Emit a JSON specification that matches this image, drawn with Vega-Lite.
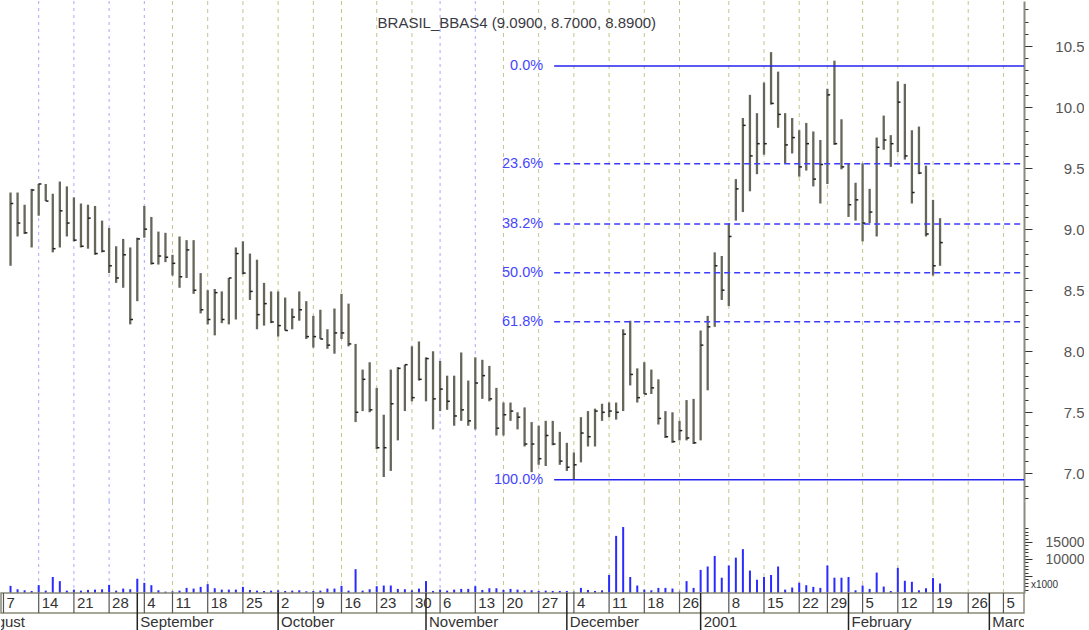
{
  "$schema": "https://vega.github.io/schema/vega-lite/v6.json",
  "padding": 0,
  "spacing": 0,
  "bounds": "flush",
  "config": {"view": {"stroke": null}, "font": "Liberation Sans", "axis": {"labelOverlap": false, "labelBound": false}},
  "datasets": {
    "bars": [
      {"i":0,"h":9.30,"l":8.70,"c":9.21,"v":2100},{"i":1,"h":9.30,"l":8.94,"c":9.05,"v":1100},{"i":2,"h":9.20,"l":8.96,"c":8.97,"v":800},{"i":3,"h":9.33,"l":8.85,"c":9.32,"v":600},{"i":4,"h":9.37,"l":9.11,"c":9.37,"v":2300},
      {"i":5,"h":9.37,"l":9.23,"c":9.23,"v":700},{"i":6,"h":9.29,"l":8.81,"c":8.84,"v":4700},{"i":7,"h":9.39,"l":8.85,"c":9.15,"v":3500},{"i":8,"h":9.35,"l":8.94,"c":9.05,"v":700},{"i":9,"h":9.26,"l":8.90,"c":8.91,"v":1000},
      {"i":10,"h":9.21,"l":8.85,"c":8.86,"v":700},{"i":11,"h":9.20,"l":8.84,"c":9.09,"v":900},{"i":12,"h":9.19,"l":8.79,"c":8.80,"v":1000},{"i":13,"h":9.07,"l":8.81,"c":8.82,"v":1100},{"i":14,"h":9.01,"l":8.64,"c":8.70,"v":2400},
      {"i":15,"h":8.86,"l":8.56,"c":8.60,"v":700},{"i":16,"h":8.92,"l":8.52,"c":8.79,"v":1300},{"i":17,"h":8.85,"l":8.22,"c":8.26,"v":1100},{"i":18,"h":8.93,"l":8.41,"c":8.92,"v":4200},{"i":19,"h":9.19,"l":8.93,"c":9.00,"v":3000},
      {"i":20,"h":9.10,"l":8.71,"c":8.72,"v":2300},{"i":21,"h":8.98,"l":8.71,"c":8.78,"v":800},{"i":22,"h":8.97,"l":8.73,"c":8.77,"v":400},{"i":23,"h":8.79,"l":8.62,"c":8.72,"v":500},{"i":24,"h":8.94,"l":8.52,"c":8.61,"v":700},
      {"i":25,"h":8.91,"l":8.60,"c":8.83,"v":1500},{"i":26,"h":8.91,"l":8.47,"c":8.50,"v":1300},{"i":27,"h":8.64,"l":8.31,"c":8.34,"v":1800},{"i":28,"h":8.50,"l":8.22,"c":8.26,"v":2600},{"i":29,"h":8.51,"l":8.13,"c":8.48,"v":1400},
      {"i":30,"h":8.49,"l":8.23,"c":8.26,"v":1000},{"i":31,"h":8.60,"l":8.22,"c":8.60,"v":1000},{"i":32,"h":8.85,"l":8.26,"c":8.80,"v":1000},{"i":33,"h":8.90,"l":8.63,"c":8.64,"v":1800},{"i":34,"h":8.80,"l":8.42,"c":8.49,"v":900},
      {"i":35,"h":8.75,"l":8.18,"c":8.30,"v":700},{"i":36,"h":8.56,"l":8.21,"c":8.39,"v":600},{"i":37,"h":8.49,"l":8.23,"c":8.24,"v":700},{"i":38,"h":8.49,"l":8.12,"c":8.21,"v":800},{"i":39,"h":8.44,"l":8.17,"c":8.17,"v":600},
      {"i":40,"h":8.35,"l":8.18,"c":8.28,"v":700},{"i":41,"h":8.49,"l":8.25,"c":8.34,"v":800},{"i":42,"h":8.41,"l":8.10,"c":8.12,"v":500},{"i":43,"h":8.29,"l":8.03,"c":8.12,"v":600},{"i":44,"h":8.34,"l":8.10,"c":8.10,"v":700},
      {"i":45,"h":8.18,"l":8.02,"c":8.05,"v":1300},{"i":46,"h":8.35,"l":7.98,"c":8.15,"v":1300},{"i":47,"h":8.47,"l":8.10,"c":8.15,"v":2100},{"i":48,"h":8.39,"l":8.04,"c":8.06,"v":700},{"i":49,"h":8.06,"l":7.42,"c":7.50,"v":7000},
      {"i":50,"h":7.85,"l":7.51,"c":7.77,"v":700},{"i":51,"h":7.91,"l":7.50,"c":7.52,"v":1100},{"i":52,"h":7.70,"l":7.20,"c":7.21,"v":2000},{"i":53,"h":7.48,"l":6.97,"c":7.21,"v":2200},{"i":54,"h":7.85,"l":7.02,"c":7.57,"v":2200},
      {"i":55,"h":7.87,"l":7.27,"c":7.86,"v":1200},{"i":56,"h":7.89,"l":7.51,"c":7.89,"v":1100},{"i":57,"h":8.04,"l":7.59,"c":7.62,"v":800},{"i":58,"h":8.08,"l":7.76,"c":7.77,"v":1300},{"i":59,"h":7.95,"l":7.59,"c":7.94,"v":3500},
      {"i":60,"h":8.00,"l":7.36,"c":7.61,"v":600},{"i":61,"h":7.92,"l":7.51,"c":7.69,"v":1000},{"i":62,"h":7.80,"l":7.52,"c":7.59,"v":700},{"i":63,"h":7.80,"l":7.39,"c":7.47,"v":1000},{"i":64,"h":7.99,"l":7.43,"c":7.52,"v":1200},
      {"i":65,"h":7.76,"l":7.39,"c":7.43,"v":1200},{"i":66,"h":7.95,"l":7.36,"c":7.74,"v":2000},{"i":67,"h":7.93,"l":7.61,"c":7.80,"v":900},{"i":68,"h":7.88,"l":7.59,"c":7.61,"v":1400},{"i":69,"h":7.70,"l":7.31,"c":7.37,"v":1400},
      {"i":70,"h":7.58,"l":7.31,"c":7.48,"v":900},{"i":71,"h":7.58,"l":7.43,"c":7.51,"v":1200},{"i":72,"h":7.50,"l":7.36,"c":7.46,"v":1000},{"i":73,"h":7.54,"l":7.22,"c":7.24,"v":800},{"i":74,"h":7.42,"l":7.01,"c":7.24,"v":800},
      {"i":75,"h":7.39,"l":7.07,"c":7.12,"v":600},{"i":76,"h":7.43,"l":7.06,"c":7.31,"v":700},{"i":77,"h":7.43,"l":7.23,"c":7.24,"v":600},{"i":78,"h":7.34,"l":7.07,"c":7.10,"v":600},{"i":79,"h":7.25,"l":7.02,"c":7.05,"v":600},
      {"i":80,"h":7.17,"l":6.95,"c":7.07,"v":400},{"i":81,"h":7.46,"l":7.09,"c":7.33,"v":1500},{"i":82,"h":7.51,"l":7.22,"c":7.30,"v":900},{"i":83,"h":7.53,"l":7.22,"c":7.51,"v":600},{"i":84,"h":7.57,"l":7.43,"c":7.50,"v":800},
      {"i":85,"h":7.58,"l":7.46,"c":7.51,"v":5300},{"i":86,"h":7.58,"l":7.44,"c":7.50,"v":16800},{"i":87,"h":8.18,"l":7.51,"c":8.14,"v":19400},{"i":88,"h":8.25,"l":7.72,"c":7.81,"v":4700},{"i":89,"h":7.86,"l":7.58,"c":7.62,"v":2200},
      {"i":90,"h":7.91,"l":7.65,"c":7.65,"v":1000},{"i":91,"h":7.85,"l":7.65,"c":7.70,"v":800},{"i":92,"h":7.77,"l":7.40,"c":7.45,"v":1500},{"i":93,"h":7.51,"l":7.29,"c":7.30,"v":1500},{"i":94,"h":7.50,"l":7.25,"c":7.26,"v":1300},
      {"i":95,"h":7.43,"l":7.27,"c":7.35,"v":400},{"i":96,"h":7.60,"l":7.27,"c":7.29,"v":3500},{"i":97,"h":7.61,"l":7.24,"c":7.25,"v":1500},{"i":98,"h":8.17,"l":7.27,"c":8.05,"v":6800},{"i":99,"h":8.29,"l":7.68,"c":8.20,"v":7800},
      {"i":100,"h":8.81,"l":8.20,"c":8.70,"v":10900},{"i":101,"h":8.78,"l":8.42,"c":8.50,"v":4500},{"i":102,"h":9.05,"l":8.37,"c":8.94,"v":8100},{"i":103,"h":9.41,"l":9.07,"c":9.33,"v":10400},{"i":104,"h":9.91,"l":9.14,"c":9.85,"v":12900},
      {"i":105,"h":10.10,"l":9.31,"c":9.60,"v":6600},{"i":106,"h":9.95,"l":9.45,"c":9.70,"v":3900},{"i":107,"h":10.20,"l":9.61,"c":9.70,"v":4700},{"i":108,"h":10.45,"l":10.02,"c":10.03,"v":5300},{"i":109,"h":10.29,"l":9.83,"c":9.94,"v":7800},
      {"i":110,"h":9.95,"l":9.54,"c":9.69,"v":1000},{"i":111,"h":9.91,"l":9.62,"c":9.75,"v":1600},{"i":112,"h":9.81,"l":9.43,"c":9.51,"v":3000},{"i":113,"h":9.87,"l":9.48,"c":9.70,"v":2300},{"i":114,"h":9.80,"l":9.35,"c":9.41,"v":1800},
      {"i":115,"h":9.73,"l":9.21,"c":9.53,"v":1500},{"i":116,"h":10.15,"l":9.37,"c":10.10,"v":8100},{"i":117,"h":10.38,"l":9.69,"c":9.70,"v":4500},{"i":118,"h":9.90,"l":9.49,"c":9.51,"v":4500},{"i":119,"h":9.54,"l":9.10,"c":9.20,"v":4700},
      {"i":120,"h":9.38,"l":9.07,"c":9.24,"v":800},{"i":121,"h":9.54,"l":8.90,"c":9.05,"v":2200},{"i":122,"h":9.33,"l":9.05,"c":9.14,"v":1200},{"i":123,"h":9.75,"l":8.94,"c":9.67,"v":6000},{"i":124,"h":9.93,"l":9.65,"c":9.73,"v":1900},
      {"i":125,"h":9.77,"l":9.51,"c":9.70,"v":600},{"i":126,"h":10.21,"l":9.63,"c":10.04,"v":7400},{"i":127,"h":10.19,"l":9.57,"c":9.60,"v":3600},{"i":128,"h":9.81,"l":9.21,"c":9.30,"v":3300},{"i":129,"h":9.84,"l":9.45,"c":9.46,"v":800},
      {"i":130,"h":9.52,"l":8.94,"c":8.96,"v":1400},{"i":131,"h":9.24,"l":8.62,"c":8.70,"v":4400},{"i":132,"h":9.09,"l":8.70,"c":8.89,"v":2800}
    ],
    "gridA": [{"i":4},{"i":9},{"i":14},{"i":19},{"i":61},{"i":66}],
    "gridB": [{"i":23},{"i":28},{"i":33},{"i":38},{"i":43},{"i":47},{"i":52},{"i":57},{"i":70},{"i":75},{"i":80},{"i":85},{"i":90},{"i":95},{"i":102},{"i":107},{"i":112},{"i":116},{"i":121},{"i":126},{"i":131},{"i":136},{"i":141}],
    "weeks": [{"i":-1,"d":"7"},{"i":4,"d":"14"},{"i":9,"d":"21"},{"i":14,"d":"28"},{"i":19,"d":"4"},{"i":23,"d":"11"},{"i":28,"d":"18"},{"i":33,"d":"25"},{"i":38,"d":"2"},{"i":43,"d":"9"},{"i":47,"d":"16"},{"i":52,"d":"23"},{"i":57,"d":"30"},{"i":61,"d":"6"},{"i":66,"d":"13"},{"i":70,"d":"20"},{"i":75,"d":"27"},{"i":80,"d":"4"},{"i":85,"d":"11"},{"i":90,"d":"18"},{"i":95,"d":"26"},{"i":102,"d":"8"},{"i":107,"d":"15"},{"i":112,"d":"22"},{"i":116,"d":"29"},{"i":121,"d":"5"},{"i":126,"d":"12"},{"i":131,"d":"19"},{"i":136,"d":"26"},{"i":141,"d":"5"}],
    "months": [{"i":-5,"m":"August"},{"i":18,"m":"September"},{"i":38,"m":"October"},{"i":59,"m":"November"},{"i":79,"m":"December"},{"i":98,"m":"2001"},{"i":119,"m":"February"},{"i":139,"m":"March"}],
    "fib": [{"lvl":"0.0%","p":10.336,"i0":77.2,"i1":143.92},{"lvl":"23.6%","p":9.536,"i0":77.2,"i1":143.92},{"lvl":"38.2%","p":9.042,"i0":77.2,"i1":143.92},{"lvl":"50.0%","p":8.642,"i0":77.2,"i1":143.92},{"lvl":"61.8%","p":8.242,"i0":77.2,"i1":143.92},{"lvl":"100.0%","p":6.948,"i0":77.2,"i1":143.92}],
    "title": [{"t":"BRASIL_BBAS4 (9.0900, 8.7000, 8.8900)","i":71.9,"p":10.69}]
  },
  "vconcat": [
    {
      "width": 1023, "height": 500,
      "resolve": {"axis": {"y": "independent"}},
      "layer": [
        {"data": {"name": "gridB"}, "mark": {"type": "rule", "color": "#c4c48c", "strokeDash": [4,4], "strokeWidth": 1},
         "encoding": {"x": {"field": "i", "type": "quantitative", "scale": {"domain": [-1.353, 143.92], "nice": false, "zero": false}, "axis": null}}},
        {"data": {"name": "gridA"}, "mark": {"type": "rule", "color": "#a8a8ff", "strokeDash": [3,4], "strokeWidth": 1},
         "encoding": {"x": {"field": "i", "type": "quantitative", "scale": {"domain": [-1.353, 143.92], "nice": false, "zero": false}, "axis": null}}},
        {"data": {"name": "bars"},
         "mark": {"type": "rule", "color": "#66665a", "strokeWidth": 2.3},
         "encoding": {"x": {"field": "i", "type": "quantitative", "scale": {"domain": [-1.353, 143.92], "nice": false, "zero": false}, "axis": null},
                      "y": {"field": "l", "type": "quantitative", "scale": {"domain": [6.7735, 10.8686], "nice": false, "zero": false}, "title": null,
                            "axis": {"orient": "right", "grid": false, "title": null,
                                     "values": [6.8,6.9,7.0,7.1,7.2,7.3,7.4,7.5,7.6,7.7,7.8,7.9,8.0,8.1,8.2,8.3,8.4,8.5,8.6,8.7,8.8,8.9,9.0,9.1,9.2,9.3,9.4,9.5,9.6,9.7,9.8,9.9,10.0,10.1,10.2,10.3,10.4,10.5,10.6,10.7,10.8],
                                     "labelExpr": "abs(datum.value*2 - round(datum.value*2)) < 0.001 ? format(datum.value, '.1f') : ''",
                                     "tickSize": {"condition": {"test": "abs(datum.value*2 - round(datum.value*2)) < 0.001", "value": 8}, "value": 4},
                                     "tickColor": "#333333", "tickWidth": 1,
                                     "domainColor": "#8a8a80", "domainWidth": 2,
                                     "labelAlign": "right", "labelPadding": 52, "labelDx": 28, "labelFontSize": 15, "labelColor": "#555555",
                                     "labelOverlap": false, "labelBound": false, "labelFlush": false, "labelBaseline": "middle"}},
                      "y2": {"field": "h"}}},
        {"data": {"name": "fib"}, "transform": [{"filter": "datum.lvl == '0.0%' || datum.lvl == '100.0%'"}],
         "mark": {"type": "rule", "color": "#2424f0", "strokeWidth": 1.5},
         "encoding": {"x": {"field": "i0", "type": "quantitative", "scale": {"domain": [-1.353, 143.92], "nice": false, "zero": false}, "axis": null},
                      "x2": {"field": "i1"},
                      "y": {"field": "p", "type": "quantitative", "scale": {"domain": [6.7735, 10.8686], "nice": false, "zero": false}, "title": null, "axis": null}}},
        {"data": {"name": "fib"}, "transform": [{"filter": "datum.lvl != '0.0%' && datum.lvl != '100.0%'"}],
         "mark": {"type": "rule", "color": "#3c3cff", "strokeWidth": 1.5, "strokeDash": [6,4]},
         "encoding": {"x": {"field": "i0", "type": "quantitative", "scale": {"domain": [-1.353, 143.92], "nice": false, "zero": false}, "axis": null},
                      "x2": {"field": "i1"},
                      "y": {"field": "p", "type": "quantitative", "scale": {"domain": [6.7735, 10.8686], "nice": false, "zero": false}, "title": null, "axis": null}}},
        {"data": {"name": "fib"},
         "mark": {"type": "text", "align": "right", "baseline": "middle", "dx": -11, "fontSize": 14.5, "color": "#4646ff"},
         "encoding": {"x": {"field": "i0", "type": "quantitative", "scale": {"domain": [-1.353, 143.92], "nice": false, "zero": false}, "axis": null},
                      "y": {"field": "p", "type": "quantitative", "scale": {"domain": [6.7735, 10.8686], "nice": false, "zero": false}, "title": null, "axis": null},
                      "text": {"field": "lvl"}}},
        {"data": {"name": "bars"},
         "mark": {"type": "point", "shape": "M0,0H1", "size": 30, "filled": false, "strokeWidth": 1.5, "color": "#222222", "opacity": 1},
         "encoding": {"x": {"field": "i", "type": "quantitative", "scale": {"domain": [-1.353, 143.92], "nice": false, "zero": false}, "axis": null},
                      "y": {"field": "c", "type": "quantitative", "scale": {"domain": [6.7735, 10.8686], "nice": false, "zero": false}, "title": null, "axis": null}}},
        {"data": {"name": "title"},
         "mark": {"type": "text", "align": "center", "baseline": "middle", "fontSize": 15, "color": "#3a3a44"},
         "encoding": {"x": {"field": "i", "type": "quantitative", "scale": {"domain": [-1.353, 143.92], "nice": false, "zero": false}, "axis": null},
                      "y": {"field": "p", "type": "quantitative", "scale": {"domain": [6.7735, 10.8686], "nice": false, "zero": false}, "title": null, "axis": null},
                      "text": {"field": "t"}}}
      ]
    },
    {
      "width": 1023, "height": 92,
      "layer": [
        {"data": {"name": "gridB"}, "mark": {"type": "rule", "color": "#c4c48c", "strokeDash": [4,4], "strokeWidth": 1},
         "encoding": {"x": {"field": "i", "type": "quantitative", "scale": {"domain": [-1.353, 143.92], "nice": false, "zero": false}, "axis": null}}},
        {"data": {"name": "gridA"}, "mark": {"type": "rule", "color": "#a8a8ff", "strokeDash": [3,4], "strokeWidth": 1},
         "encoding": {"x": {"field": "i", "type": "quantitative", "scale": {"domain": [-1.353, 143.92], "nice": false, "zero": false}, "axis": null}}},
        {"data": {"name": "bars"},
         "mark": {"type": "rule", "color": "#2b2bff", "strokeWidth": 2},
         "encoding": {"x": {"field": "i", "type": "quantitative", "scale": {"domain": [-1.353, 143.92], "nice": false, "zero": false}, "axis": null},
                      "y": {"field": "v", "type": "quantitative", "scale": {"domain": [0, 27059], "nice": false, "zero": false}, "title": null,
                            "axis": {"orient": "right", "grid": false,
                                     "values": [1000,2000,3000,4000,5000,6000,7000,8000,9000,10000,11000,12000,13000,14000,15000,16000,17000,18000,19000],
                                     "labelExpr": "(datum.value == 10000 || datum.value == 15000) ? format(datum.value, 'd') : ''",
                                     "tickSize": {"condition": {"test": "datum.value % 5000 == 0", "value": 8}, "value": 4},
                                     "tickColor": "#333333", "tickWidth": 1,
                                     "domainColor": "#8a8a80", "domainWidth": 2,
                                     "labelAlign": "right", "labelPadding": 52, "labelDx": 24, "labelFontSize": 14, "labelColor": "#555555",
                                     "labelOverlap": false, "labelBound": false, "labelFlush": false, "labelBaseline": "middle",
                                     "title": "x1000", "titleAngle": 0, "titleX": 20, "titleY": 83, "titleAlign": "center", "titleBaseline": "middle",
                                     "titleFontSize": 10, "titleFontWeight": "normal", "titleColor": "#333333"}},
                      "y2": {"datum": 0}}}
      ]
    },
    {
      "width": 1023, "height": 20,
      "view": {"stroke": "#8a8a78", "strokeWidth": 1.5},
      "layer": [
        {"data": {"name": "weeks"}, "mark": {"type": "rule", "color": "#555555", "strokeWidth": 1.2, "clip": true},
         "encoding": {"x": {"field": "i", "type": "quantitative", "scale": {"domain": [-1.353, 143.92], "nice": false, "zero": false}, "axis": null}}},
        {"data": {"name": "months"}, "mark": {"type": "rule", "color": "#222222", "strokeWidth": 1.5, "clip": true},
         "encoding": {"x": {"field": "i", "type": "quantitative", "scale": {"domain": [-1.353, 143.92], "nice": false, "zero": false}, "axis": null}}},
        {"data": {"name": "weeks"}, "mark": {"type": "text", "align": "left", "baseline": "middle", "dx": 3, "fontSize": 15, "color": "#333333", "clip": true},
         "encoding": {"x": {"field": "i", "type": "quantitative", "scale": {"domain": [-1.353, 143.92], "nice": false, "zero": false}, "axis": null},
                      "text": {"field": "d"}}}
      ]
    },
    {
      "width": 1023, "height": 18,
      "layer": [
        {"data": {"name": "months"}, "mark": {"type": "rule", "color": "#222222", "strokeWidth": 1.5, "clip": true},
         "encoding": {"x": {"field": "i", "type": "quantitative", "scale": {"domain": [-1.353, 143.92], "nice": false, "zero": false}, "axis": null}}},
        {"data": {"name": "months"}, "mark": {"type": "text", "align": "left", "baseline": "middle", "dx": 3, "fontSize": 15, "color": "#333333", "clip": true},
         "encoding": {"x": {"field": "i", "type": "quantitative", "scale": {"domain": [-1.353, 143.92], "nice": false, "zero": false}, "axis": null},
                      "text": {"field": "m"}}}
      ]
    }
  ]
}
